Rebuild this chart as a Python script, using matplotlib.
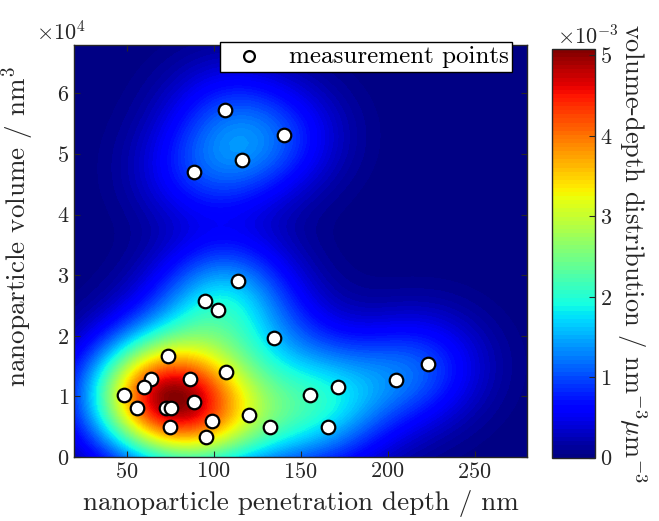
import numpy as np
import matplotlib
matplotlib.use("Agg")
import matplotlib.pyplot as plt
from matplotlib.ticker import ScalarFormatter

plt.rcParams['font.family'] = 'serif'
plt.rcParams['font.serif'] = ['cmr10']
plt.rcParams['mathtext.fontset'] = 'cm'
plt.rcParams['axes.formatter.use_mathtext'] = True
plt.rcParams['axes.unicode_minus'] = True

# measured nanoparticles: penetration depth (nm) and volume (nm^3)
depth = [106.7, 140.3, 116.4, 89.0, 114.1, 95.3, 102.7,
         134.6, 73.8, 107.4, 64.3, 86.6, 60.0, 48.6, 89.0,
         55.8, 72.9, 75.5, 120.2, 99.3, 75.2, 132.5, 95.5,
         223.3, 204.7, 171.7, 155.5, 165.8]
volume = [5.73e4, 5.32e4, 4.91e4, 4.71e4, 2.90e4, 2.57e4, 2.42e4,
          1.96e4, 1.66e4, 1.40e4, 1.28e4, 1.28e4, 1.16e4, 1.03e4, 0.91e4,
          0.81e4, 0.81e4, 0.81e4, 0.69e4, 0.59e4, 0.50e4, 0.50e4, 0.33e4,
          1.54e4, 1.27e4, 1.15e4, 1.03e4, 0.50e4]

bw_depth = 25.0      # kernel bandwidth along depth, nm
bw_volume = 6200.0   # kernel bandwidth along volume, nm^3
peak_density = 5.08e-3

# gaussian kernel density on a regular grid
gx = np.linspace(20, 280, 60)
gy = np.linspace(0, 6.8e4, 60)
X, Y = np.meshgrid(gx, gy)
d = np.array(depth)
v = np.array(volume)
Z = np.zeros_like(X)
for xi, yi in zip(d, v):
    Z += np.exp(-0.5 * (((X - xi) / bw_depth) ** 2 + ((Y - yi) / bw_volume) ** 2))
Z = Z / Z.max() * peak_density

fig = plt.figure(figsize=(6.59, 5.21), dpi=100)
ax = fig.add_axes([0.1127, 0.1228, 0.6869, 0.7908])
cax = fig.add_axes([0.8376, 0.1215, 0.0653, 0.7845])

cf = ax.contourf(X, Y, Z, levels=np.linspace(0, Z.max(), 101), cmap='jet')
ax.scatter(d, v, s=95, facecolor='white', edgecolor='black', linewidth=1.6,
           zorder=3, label='measurement points')

ax.set_xlim(20, 280)
ax.set_ylim(0, 6.8e4)
ax.set_xticks([50, 100, 150, 200, 250])
ax.set_yticks(np.arange(0, 7e4, 1e4))
fmt = ScalarFormatter(useMathText=True)
fmt.set_powerlimits((0, 0))
ax.yaxis.set_major_formatter(fmt)
ax.tick_params(direction='in', length=4, width=0.8, labelsize=16,
               top=True, right=True, colors='#262626', labelcolor='#262626')
for s in ax.spines.values():
    s.set_color('#262626')
    s.set_linewidth(1.0)
ax.yaxis.get_offset_text().set_fontsize(16)
ax.yaxis.get_offset_text().set_color('#262626')
ax.yaxis.get_offset_text().set_x(-0.085)

ax.set_xlabel('nanoparticle penetration depth / nm', fontsize=19.5, color='#262626')
ax.set_ylabel('nanoparticle volume / nm$^3$', fontsize=19.5, color='#262626')
ax.xaxis.set_label_coords(0.5, -0.08)
ax.yaxis.set_label_coords(-0.084, 0.56)

leg = ax.legend(loc='upper right', bbox_to_anchor=(0.968, 1.008), fontsize=18,
                frameon=True, fancybox=False, borderpad=0.15, handletextpad=0.6,
                markerscale=0.8, borderaxespad=0)
leg.get_frame().set_edgecolor('black')
leg.get_frame().set_linewidth(1.0)
leg.get_frame().set_alpha(1)

cb = fig.colorbar(cf, cax=cax, ticks=[0, 1e-3, 2e-3, 3e-3, 4e-3, 5e-3])
cfmt = ScalarFormatter(useMathText=True)
cfmt.set_powerlimits((0, 0))
cb.ax.yaxis.set_major_formatter(cfmt)
cb.ax.tick_params(direction='in', length=4, width=0.8, labelsize=16,
                  colors='#262626', labelcolor='#262626')
cb.outline.set_edgecolor('#262626')
cb.outline.set_linewidth(1.0)
off = cb.ax.yaxis.get_offset_text()
off.set_fontsize(16)
off.set_color('#262626')
off.set_horizontalalignment('left')
off.set_x(0.12)
cb.set_label('volume-depth distribution / nm$^{-3}\\mu$m$^{-3}$', fontsize=19,
             rotation=270, color='#262626', labelpad=26)

fig.savefig('out.png', dpi=100)
